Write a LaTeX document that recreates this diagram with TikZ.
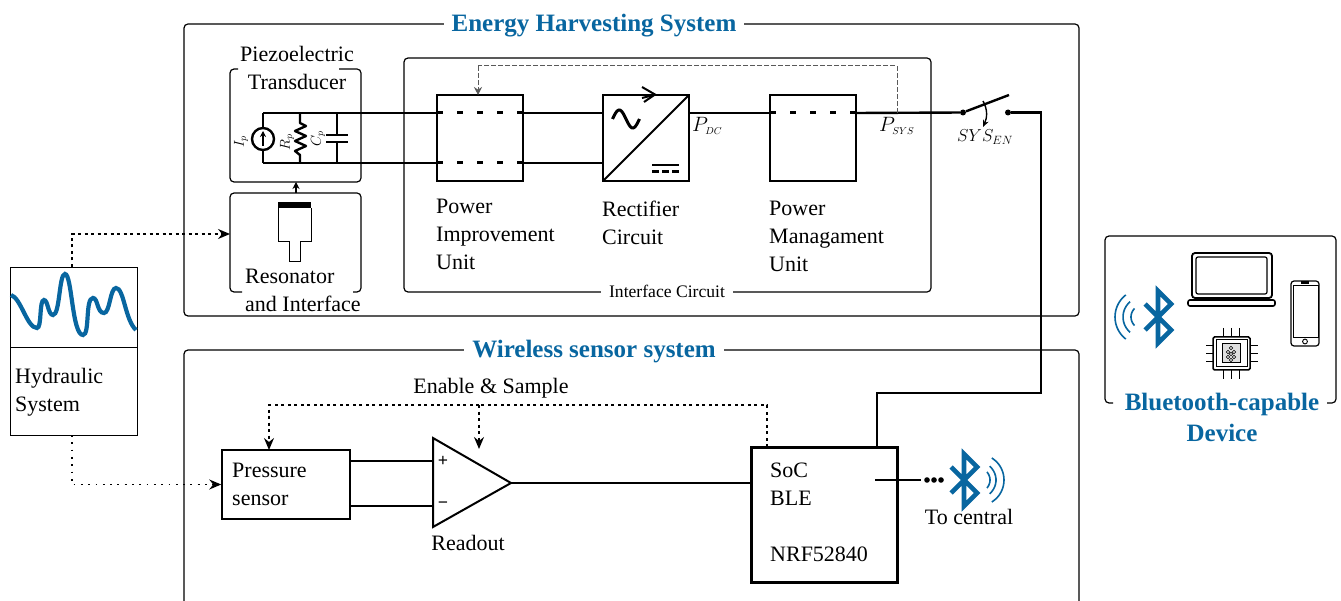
\documentclass[tikz,border=0pt]{standalone}
\usepackage{fontspec}
\setmainfont{Liberation Serif}
\usetikzlibrary{arrows.meta}
\definecolor{btblue}{RGB}{8,102,160}
\tikzset{
    txt/.style = {font=\fontsize{22}{28}\selectfont, align=left, inner sep=0pt},
    title/.style = {font=\fontsize{25}{31}\selectfont\bfseries, text=btblue, align=center, fill=white, inner ysep=0pt, inner xsep=8pt},
    frame/.style = {line width=1.2pt, rounded corners=4pt},
    block/.style = {draw, line width=2.5pt, minimum width=86pt, minimum height=86pt, inner sep=0pt, outer sep=0pt},
    wire/.style = {line width=2.4pt},
    dashwire/.style = {line width=3pt, dash pattern=on 6pt off 14pt},
    ctrl/.style = {line width=1.6pt, dash pattern=on 3pt off 3.5pt, -{Stealth[length=12pt,width=10pt,inset=4pt]}},
    ctrldot/.style = {line width=1.8pt, dash pattern=on 1.8pt off 5.5pt, -{Stealth[length=12pt,width=10pt,inset=4pt]}},
    btline/.style = {line width=1.6pt, btblue},
    icon/.style = {line width=1.2pt, rounded corners=1.5pt},
    pics/btlogo/.style = {code={
        \draw[line width=4.6pt, btblue, miter limit=10] (-13, -13) -- (13, 13) -- (0, 26) -- (0, -26) -- (13, -13) -- (-13, 13);
    }}
}

\begin{document}
\begin{tikzpicture}[x=1pt, y=-1pt]
    \useasboundingbox (0, 0) rectangle (1341, 601);

    % outer frames
    \draw[frame] (184, 24) rectangle (1079, 316);
    \draw[frame] (184, 610) -- (184, 350) -- (1079, 350) -- (1079, 610);
    \draw[frame] (404, 58) rectangle (931, 292);
    \node (energytitle) [title] at (594, 26) {Energy Harvesting System};
    \node (wirelesstitle) [title] at (594, 352) {Wireless sensor system};
    \node (interfacelabel) [txt, font=\fontsize{17.6}{22}\selectfont, fill=white, inner xsep=8pt] at (667, 291) {Interface Circuit};

    % transducer and resonator
    \draw[frame] (238, 69) -- (230, 69) -- (230, 182) -- (361, 182) -- (361, 69) -- (339, 69);
    \draw[frame] (242, 292) -- (230, 292) -- (230, 193) -- (361, 193) -- (361, 292) -- (353, 292);
    \coordinate (piezoS) at (296, 182);
    \coordinate (resonN) at (296, 193);
    \draw[line width=1.5pt, -{Stealth[length=7pt,width=7pt]}] (resonN) -- (piezoS);
    \node (piezolabel) [txt, align=center] at (297, 68) {Piezoelectric\\Transducer};
    \node (resonlabel) [txt, anchor=west] at (245, 290) {Resonator\\and Interface};
    \fill (278, 202) rectangle (311, 208);
    \draw[line width=0.8pt] (278, 208) -- (278, 241) -- (289, 241) -- (289, 261) -- (300, 261) -- (300, 241) -- (311, 241) -- (311, 208);

    % piezo equivalent circuit
    \coordinate (vtop) at (263, 113);
    \coordinate (vbot) at (263, 163);
    \node (isrc) [circle, draw, line width=2.4pt, minimum size=22pt, inner sep=0pt] at (263, 139) {};
    \draw[wire] (vtop) -- (isrc.north);
    \draw[wire] (isrc.south) -- (vbot);
    \draw[line width=1.5pt, -{Stealth[length=6pt,width=6pt]}] (263, 146) -- (263, 131);
    \draw[wire, line join=round] (300, 113) -- (300, 123) -- (306, 126) -- (295, 131) -- (306, 136) -- (295, 141) -- (306, 146) -- (295, 151) -- (300, 155) -- (300, 163);
    \draw[wire] (337, 113) -- (337, 135);
    \draw[wire] (337, 142) -- (337, 163);
    \draw[wire] (326, 135) -- (348, 135);
    \draw[wire] (326, 142) -- (348, 142);
    \node (iplabel) [font=\fontsize{14}{14}\selectfont, rotate=90, inner sep=0pt] at (241, 142) {$I_p$};
    \node (rplabel) [font=\fontsize{14}{14}\selectfont, rotate=90, inner sep=0pt] at (287, 142) {$R_p$};
    \node (cplabel) [font=\fontsize{14}{14}\selectfont, rotate=90, inner sep=0pt] at (318, 139) {$C_p$};

    % interface circuit
    \node (piu) [block] at (480, 138) {};
    \node (rect) [block] at (646, 138) {};
    \node (pmu) [block] at (813, 138) {};
    \node (piutext) [txt, anchor=west] at (436, 234) {Power\\Improvement\\Unit};
    \node (recttext) [txt, anchor=west] at (602, 222.5) {Rectifier\\Circuit};
    \node (pmutext) [txt, anchor=west] at (769, 236) {Power\\Managament\\Unit};
    \draw[wire] (vtop) -- (piu.west |- vtop);
    \draw[wire] (vbot) -- (piu.west |- vbot);
    \draw[dashwire] (piu.west |- vtop) -- (piu.east |- vtop);
    \draw[dashwire] (piu.west |- vbot) -- (piu.east |- vbot);
    \draw[wire] (piu.east |- vtop) -- (rect.west |- vtop);
    \draw[wire] (piu.east |- vbot) -- (rect.west |- vbot);
    \draw[wire] (rect.east |- vtop) -- (pmu.west |- vtop);
    \draw[dashwire] (pmu.west |- vtop) -- (pmu.east |- vtop);
    \draw[line width=2pt] (rect.south west) -- (rect.north east);
    \draw[line width=3pt, smooth, variable=\t, domain=0:360, samples=30] plot ({612.5 + \t/360*27}, {119 - 9*sin(\t)});
    \draw[line width=2pt] (642, 98) -- (654, 95);
    \draw[line width=2pt] (642, 87) -- (655, 94.5) -- (644, 102);
    \draw[line width=2.6pt] (652, 165) -- (679, 165);
    \draw[line width=2.6pt, dash pattern=on 7pt off 3pt] (652, 171.5) -- (679, 171.5);
    \node (pdclabel) [font=\fontsize{20}{20}\selectfont, inner sep=0pt, anchor=west] at (692, 126) {$P_{\scriptscriptstyle DC}$};
    \node (psyslabel) [font=\fontsize{20}{20}\selectfont, inner sep=0pt, anchor=west] at (879, 126) {$P_{\scriptscriptstyle SYS}$};

    % switch and enable line
    \node (swa) [circle, fill, minimum size=6pt, inner sep=0pt] at (963, 112.5) {};
    \node (swb) [circle, fill, minimum size=6pt, inner sep=0pt] at (1008, 112.5) {};
    \draw[wire] (pmu.east |- vtop) -- (swa);
    \draw[wire] (swa) -- (1009, 95);
    \node (syslabel) [font=\fontsize{18.5}{18.5}\selectfont, inner sep=0pt] at (985, 137) {$SYS_{EN}$};
    \draw[line width=1.4pt, -{Stealth[length=7pt,width=6pt]}] (983, 101) .. controls (988, 110) and (987, 118) .. (983, 127);
    \coordinate (fbstart) at (897, 113);
    \draw[line width=1pt, dash pattern=on 5pt off 2pt, gray!70!black] (fbstart) -- (897, 66) -- (478, 66);
    \draw[line width=1pt, dash pattern=on 5pt off 2pt, gray!70!black, -{Stealth[length=8pt,width=8pt]}] (478, 66) -- (478, 95);

    % hydraulic system
    \node (hydro) [draw, line width=0.9pt, minimum width=127pt, minimum height=168pt, inner sep=0pt] at (73.5, 351) {};
    \draw[line width=0.9pt] (10, 347) -- (137, 347);
    \draw[line width=4.2pt, btblue] (11, 295) .. controls (21, 298) and (27, 328) .. (37, 328)
        .. controls (42, 328) and (39, 300) .. (44, 300)
        .. controls (48, 300) and (48, 315) .. (53, 315)
        .. controls (60, 315) and (59, 274) .. (65, 274)
        .. controls (72, 274) and (72, 335) .. (83, 335)
        .. controls (90, 335) and (85, 298) .. (93, 298)
        .. controls (98, 298) and (97, 313) .. (104, 313)
        .. controls (110, 313) and (110, 288) .. (116, 288)
        .. controls (124, 288) and (125, 320) .. (136, 330);
    \node (hydrolabel) [txt, anchor=west] at (15, 392.5) {Hydraulic\\System};
    \coordinate (hydrotop) at (72, 267);
    \coordinate (hydrobot) at (72, 435);
    \coordinate (resonW) at (230, 234);
    \draw[ctrl] (hydrotop) |- (resonW);

    % wireless sensor
    \node (sensor) [draw, line width=1.5pt, minimum width=128pt, minimum height=69pt, inner sep=0pt] at (286, 484.5) {};
    \node (sensorlabel) [txt, anchor=west] at (232, 484.5) {Pressure\\sensor};
    \draw[ctrldot] (hydrobot) |- (sensor.west);
    \coordinate (ampa) at (433, 461);
    \coordinate (ampb) at (433, 506);
    \coordinate (ampo) at (511, 483);
    \draw[line width=2pt, line join=miter] (433, 438) -- (433, 527) -- (ampo) -- cycle;
    \draw[wire] (sensor.east |- ampa) -- (ampa);
    \draw[wire] (sensor.east |- ampb) -- (ampb);
    \node (plus) [font=\fontsize{18}{18}\selectfont\bfseries, inner sep=0pt] at (443, 461) {+};
    \node (minus) [font=\fontsize{18}{18}\selectfont\bfseries, inner sep=0pt] at (443, 505) {−};
    \node (readout) [txt] at (468, 543) {Readout};
    \node (enablelabel) [txt] at (491, 388) {Enable \& Sample};
    \node (soc) [draw, line width=3pt, minimum width=146pt, minimum height=135pt, inner sep=0pt] at (824, 514.5) {};
    \node (soclabel) [txt, anchor=west] at (770, 484) {SoC\\BLE};
    \node (nrflabel) [txt, anchor=west] at (770, 554) {NRF52840};
    \draw[wire] (ampo) -- (soc.west |- ampo);
    \coordinate (enstart) at (767, 447);
    \coordinate (sensorN) at (269, 450);
    \coordinate (ampN) at (479, 449);
    \draw[ctrl, -] (enstart) -- (767, 405) -- (479, 405);
    \draw[ctrl] (479, 405) -- (ampN);
    \draw[ctrl] (479, 405) -- (269, 405) -- (sensorN);
    \coordinate (socN) at (877, 447);
    \draw[wire] (swb) -- (1041, 112.5) -- (1041, 393) -- (877, 393) -- (socN);

    % radio link
    \coordinate (bleout) at (875, 480);
    \coordinate (blein) at (921, 480);
    \draw[wire] (bleout) -- (blein);
    \foreach \x in {927, 934, 941} {
        \fill (\x, 480) circle (2.8);
    }
    \pic at (964, 480) {btlogo};
    \foreach \r/\a in {12/42, 18/50, 26/58} {
        \draw[btline, smooth, variable=\t, domain=-\a:\a, samples=12] plot ({978 + \r*cos(\t)}, {480 + \r*sin(\t)});
    }
    \node (tocentral) [txt] at (969, 517) {To central};

    % bluetooth device
    \draw[frame] (1113, 403) -- (1105, 403) -- (1105, 236) -- (1336, 236) -- (1336, 403) -- (1327, 403);
    \node (devicelabel) [title, fill=none] at (1222, 417) {Bluetooth-capable\\Device};
    \pic at (1158, 317) {btlogo};
    \foreach \r/\a in {12/45, 20/50, 28/52} {
        \draw[btline, smooth, variable=\t, domain=-\a:\a, samples=12] plot ({1143 - \r*cos(\t)}, {317 + \r*sin(\t)});
    }
    \draw[icon, line width=1.8pt, rounded corners=3pt] (1192, 253) rectangle (1272, 298);
    \draw[icon, rounded corners=2pt] (1196, 257) rectangle (1267, 294);
    \draw[icon, line width=1.6pt, rounded corners=2pt] (1188, 300) rectangle (1275, 306);
    \draw[icon, rounded corners=3pt] (1291, 281) rectangle (1319, 346);
    \draw[line width=0.8pt] (1293, 285) rectangle (1318, 337);
    \fill (1301, 281.5) rectangle (1309, 284);
    \draw[line width=0.9pt] (1305, 341.5) circle (2.4);
    \draw[icon, line width=1.5pt] (1213, 337) rectangle (1250, 370);
    \draw[line width=1pt] (1216, 340) rectangle (1247, 367);
    \draw[line width=1pt, fill=gray!25] (1222, 344) rectangle (1240, 363);
    \foreach \x in {1223, 1231, 1239} {
        \draw[line width=1pt] (\x, 328) -- (\x, 337);
        \draw[line width=1pt] (\x, 370) -- (\x, 379);
    }
    \foreach \y in {346, 353.5, 362} {
        \draw[line width=1pt] (1206, \y) -- (1213, \y);
        \draw[line width=1pt] (1250, \y) -- (1258, \y);
    }
    \foreach \x/\y in {1231/348, 1228/352, 1234/352, 1231/354, 1228/357, 1234/357, 1231/360} {
        \draw[line width=0.5pt] (\x, \y) circle (1.7);
    }
\end{tikzpicture}
\end{document}
